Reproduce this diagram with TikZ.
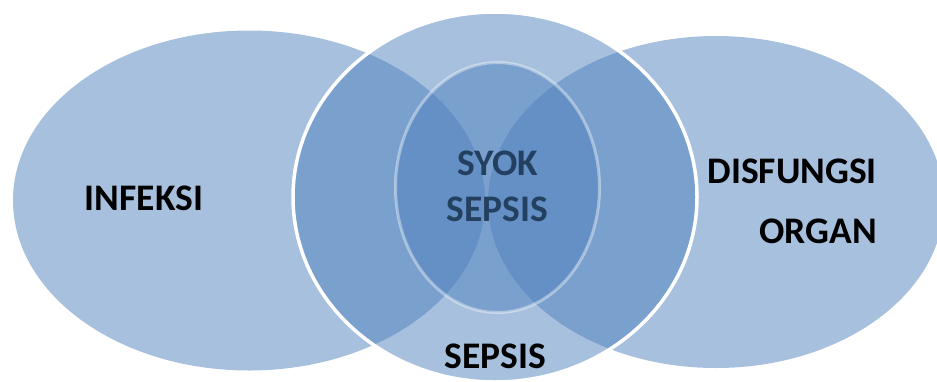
\documentclass[tikz,border=0pt]{standalone}
\usepackage{fontspec}
\setmainfont{Carlito}
\definecolor{accent}{RGB}{79,129,189}
\definecolor{darktext}{RGB}{36,64,97}
\begin{document}
\begin{tikzpicture}[x=1pt,y=-1pt,
  setshape/.style={fill=accent, fill opacity=0.5},
  lbl/.style={font=\fontsize{37.5}{46}\selectfont\bfseries, inner sep=0pt, text=black}]
\useasboundingbox (0,0) rectangle (937,381);
% left and right sets
\fill[setshape] (249,200.5) ellipse [x radius=236pt, y radius=170pt];
\fill[setshape] (716,202) ellipse [x radius=228pt, y radius=166pt];
% middle set (sepsis)
\path[setshape, draw=white, draw opacity=1, line width=3.5pt] (495,197) ellipse [x radius=202pt, y radius=185pt];
% inner set (syok sepsis)
\path[setshape, draw=white, draw opacity=0.4, line width=3pt] (497.5,187.5) ellipse [x radius=102pt, y radius=125pt];
% labels
\node[lbl, anchor=base] (infeksi) at (144,210) {INFEKSI};
\node[lbl, anchor=base] (sepsis) at (495,368) {SEPSIS};
\node[lbl, text=darktext, align=center, anchor=base] (syok) at (497.5,221) {SYOK\\SEPSIS};
\node[lbl, align=right, anchor=base east] (organ) at (877,243) {DISFUNGSI\\[14pt]ORGAN};
\end{tikzpicture}
\end{document}
